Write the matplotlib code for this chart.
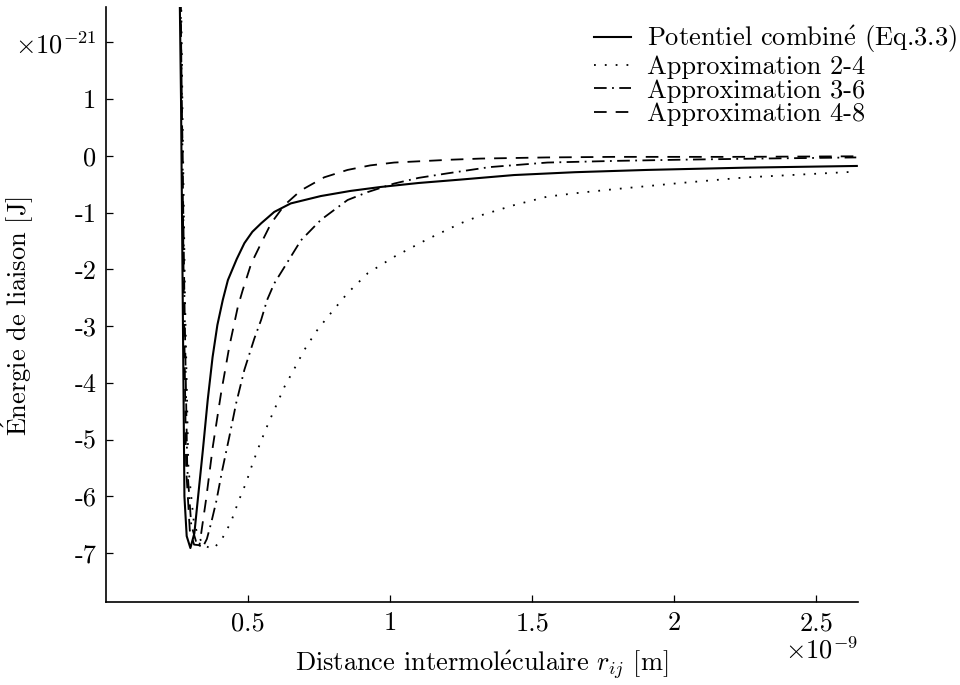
import matplotlib
matplotlib.use('Agg')
import matplotlib.pyplot as plt
import numpy as np

# distances in 1e-9 m, energies in 1e-21 J
x_comb = [0.259, 0.264, 0.270, 0.276, 0.284, 0.297, 0.311, 0.323, 0.341, 0.358, 0.375, 0.392, 0.411,
          0.429, 0.460, 0.487, 0.515, 0.546, 0.592, 0.650, 0.756, 0.860, 0.967, 1.100, 1.248, 1.436,
          1.650, 1.904, 2.250, 2.642]
y_comb = [3.0, 1.0, -2.5, -6.0, -6.7, -6.91, -6.65, -6.06, -5.18, -4.30, -3.55, -2.98, -2.54,
          -2.19, -1.82, -1.54, -1.34, -1.19, -0.99, -0.84, -0.71, -0.62, -0.55, -0.48, -0.42, -0.34,
          -0.29, -0.25, -0.21, -0.18]

x_24 = [0.264, 0.270, 0.278, 0.290, 0.310, 0.340, 0.375, 0.405, 0.440, 0.466, 0.493, 0.516, 0.542,
        0.569, 0.598, 0.628, 0.663, 0.698, 0.739, 0.780, 0.815, 0.850, 0.921, 1.014, 1.131, 1.248,
        1.319, 1.436, 1.553, 1.670, 1.787, 2.022, 2.256, 2.450, 2.640]
y_24 = [3.0, 0.5, -2.5, -5.5, -6.5, -6.85, -6.93, -6.78, -6.45, -6.09, -5.76, -5.42, -5.07,
        -4.74, -4.41, -4.07, -3.75, -3.42, -3.10, -2.84, -2.63, -2.42, -2.07, -1.78, -1.47, -1.19,
        -1.05, -0.87, -0.72, -0.65, -0.59, -0.48, -0.38, -0.33, -0.28]

x_36 = [0.262, 0.268, 0.276, 0.286, 0.300, 0.320, 0.341, 0.355, 0.370, 0.388, 0.409, 0.434, 0.458,
        0.487, 0.522, 0.546, 0.567, 0.592, 0.628, 0.686, 0.756, 0.850, 0.921, 1.014, 1.100, 1.202,
        1.350, 1.553, 1.800, 2.022, 2.300, 2.640]
y_36 = [3.0, 0.5, -2.5, -5.5, -6.5, -6.85, -6.89, -6.75, -6.47, -6.09, -5.54, -4.95, -4.36,
        -3.77, -3.22, -2.89, -2.54, -2.25, -1.96, -1.49, -1.13, -0.78, -0.64, -0.49, -0.39, -0.31,
        -0.20, -0.12, -0.09, -0.07, -0.05, -0.03]

x_48 = [0.262, 0.268, 0.274, 0.282, 0.295, 0.310, 0.329, 0.335, 0.352, 0.376, 0.405, 0.434, 0.464,
        0.481, 0.511, 0.546, 0.581, 0.628, 0.686, 0.768, 0.850, 0.930, 1.014, 1.213, 1.319, 1.550,
        1.787, 2.200, 2.640]
y_48 = [3.0, 0.5, -2.5, -5.5, -6.6, -6.85, -6.86, -6.65, -6.06, -5.12, -4.18, -3.36, -2.66,
        -2.37, -1.90, -1.54, -1.19, -0.87, -0.61, -0.38, -0.25, -0.17, -0.12, -0.07, -0.05, -0.03,
        -0.02, -0.02, -0.01]

labels = [r'Potentiel combin$\mathrm{\acute{e}}$ (Eq.3.3)', 'Approximation 2-4',
          'Approximation 3-6', 'Approximation 4-8']
xticks = [0.5, 1, 1.5, 2, 2.5]
xtick_labels = ['0.5', '1', '1.5', '2', '2.5']
yticks = [-7, -6, -5, -4, -3, -2, -1, 0, 1, 2]
ytick_labels = ['-7', '-6', '-5', '-4', '-3', '-2', '-1', '0', '1', r'$\times10^{-21}$']

plt.rcParams['font.family'] = ['cmr10', 'DejaVu Serif']
plt.rcParams['mathtext.fontset'] = 'cm'
plt.rcParams['axes.unicode_minus'] = False
plt.rcParams['axes.formatter.use_mathtext'] = True

fig = plt.figure(figsize=(9.6, 6.85), dpi=100)
ax = fig.add_axes([0.1104, 0.1212, 0.894 - 0.1104, 0.9898 - 0.1212])

lw = 1.3
ax.plot(x_comb, y_comb, color='black', lw=1.5, ls='-', label=labels[0])
ax.plot(x_24, y_24, color='black', lw=lw, ls=(0, (1, 5)), label=labels[1])
ax.plot(x_36, y_36, color='black', lw=lw, ls=(0, (7, 3, 1, 3)), label=labels[2])
ax.plot(x_48, y_48, color='black', lw=lw, ls=(0, (7, 5)), label=labels[3])

ax.set_xlim(0, 2.647)
ax.set_ylim(-7.86, 2.62)

ax.spines['top'].set_visible(False)
ax.spines['right'].set_visible(False)
ax.spines['left'].set_linewidth(1.2)
ax.spines['bottom'].set_linewidth(1.2)

ax.set_xticks(xticks)
ax.set_xticklabels(xtick_labels)
ax.set_yticks(yticks)
ax.set_yticklabels(ytick_labels)
ax.tick_params(direction='in', length=5, width=0.9, labelsize=19, pad=7)

ax.set_xlabel(r'Distance intermol$\mathrm{\acute{e}}$culaire $r_{ij}$ [m]', fontsize=19)
ax.xaxis.set_label_coords(0.5, -0.079)
ax.xaxis.label.set_va('top')
ax.set_ylabel(r'$\mathrm{\acute{E}}$nergie de liaison [J]', fontsize=19)
ax.yaxis.set_label_coords(-0.093, 0.48)

ax.text(1.0, -0.058, r'$\times10^{-9}$', transform=ax.transAxes, ha='right', va='top', fontsize=19)

fig.legend(loc='upper right', bbox_to_anchor=(1.005, 0.977), frameon=False, fontsize=19,
           handlelength=1.4, handletextpad=0.6, labelspacing=0.0, borderaxespad=0.1,
           borderpad=0.2)

fig.savefig('out.png', dpi=100)
